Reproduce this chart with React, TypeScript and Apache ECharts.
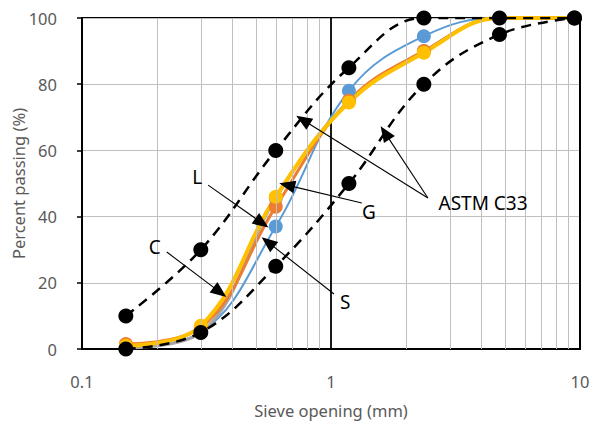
import React, { useEffect, useRef } from "react";
import * as echarts from "echarts";

// Sieve openings (mm)
const sieve = [0.15, 0.3, 0.6, 1.18, 2.36, 4.75, 9.5];
// ASTM C33 limits (% passing)
const astmUpper = [10, 30, 60, 85, 100, 100, 100];
const astmLower = [0, 5, 25, 50, 80, 95, 100];
// Sands (% passing)
const sandS = [0.5, 5, 37, 78, 94.5, 100, 100];
const sandL = [1.5, 6.5, 43, 75, 90, 100, 100];
const sandC = [0.3, 5, 45.5, 75, 90, 100, 100];
const sandG = [1, 7, 46, 74.5, 89.5, 100, 100];

// minor log gridlines
const minorTicks = [0.2, 0.3, 0.4, 0.5, 0.6, 0.7, 0.8, 0.9, 2, 3, 4, 5, 6, 7, 8, 9];
const xTickLabels = ["0.1", "1", "10"];

// annotation texts: [label, x, y]
const annTexts: [string, number, number][] = [
  ["L", 0.29, 52],
  ["C", 0.196, 30.8],
  ["G", 1.42, 41.4],
  ["S", 1.14, 14.2],
  ["ASTM C33", 4.08, 44.1],
];
// annotation arrows: [x0, y0, x1, y1]
const annArrows: [number, number, number, number][] = [
  [0.321, 49.5, 0.528, 38.1],
  [0.219, 29.3, 0.358, 17.2],
  [1.33, 44.1, 0.666, 49.5],
  [1.028, 16.6, 0.558, 32.3],
  [2.45, 45.6, 0.772, 69.2],
  [2.45, 45.6, 1.648, 65.3],
];

const FONT = "Noto Sans";

function pairs(ys: number[]) {
  return sieve.map((x, i) => [x, ys[i]]);
}

export default function App() {
  const ref = useRef<HTMLDivElement>(null);
  useEffect(() => {
    document.body.style.margin = "0";
    const chart = echarts.init(ref.current!, null, { renderer: "svg" });
    const sandSeries = (name: string, ys: number[], color: string, width: number) => ({
      name,
      type: "line",
      data: pairs(ys),
      smooth: 0.4,
      symbol: "circle",
      symbolSize: 14,
      z: 3,
      itemStyle: { color },
      lineStyle: { color, width },
    });
    const astmSeries = (name: string, ys: number[]) => ({
      name,
      type: "line",
      data: pairs(ys),
      smooth: 0.4,
      symbol: "circle",
      symbolSize: 15,
      z: 5,
      itemStyle: { color: "#000" },
      lineStyle: { color: "#000", width: 2.5, type: [10, 7] },
    });
    chart.setOption({
      animation: false,
      grid: {
        left: 82,
        right: 11,
        top: 18,
        bottom: 76,
        show: true,
        borderColor: "#000",
        borderWidth: 2,
        containLabel: false,
        outerBoundsMode: "none",
      },
      xAxis: {
        type: "log",
        logBase: 10,
        min: 0.1,
        max: 10,
        name: "Sieve opening (mm)",
        nameLocation: "middle",
        nameGap: 53,
        nameMoveOverlap: false,
        nameTextStyle: { fontFamily: FONT, fontSize: 16.5, color: "#595959" },
        axisLine: { show: true, lineStyle: { color: "#000", width: 2 } },
        axisTick: { show: false },
        axisLabel: {
          fontFamily: FONT,
          fontSize: 16.5,
          color: "#595959",
          margin: 24,
          formatter: (v: number) => {
            const i = Math.round(Math.log10(v)) + 1;
            return xTickLabels[i] ?? String(v);
          },
        },
        splitLine: { show: true, lineStyle: { color: "#000", width: 1.8 } },
      },
      yAxis: {
        type: "value",
        min: 0,
        max: 100,
        interval: 20,
        name: "Percent passing (%)",
        nameLocation: "middle",
        nameGap: 55,
        nameMoveOverlap: false,
        nameTextStyle: { fontFamily: FONT, fontSize: 16.5, color: "#595959" },
        axisLine: { show: true, lineStyle: { color: "#000", width: 2 } },
        axisTick: { show: true, length: 5, lineStyle: { color: "#000", width: 1.5 } },
        axisLabel: { fontFamily: FONT, fontSize: 16.5, color: "#595959", margin: 25 },
        splitLine: { show: true, lineStyle: { color: "#BFBFBF", width: 1 } },
      },
      series: [
        {
          name: "minorGrid",
          type: "line",
          data: [],
          z: 1,
          silent: true,
          markLine: {
            silent: true,
            symbol: ["none", "none"],
            label: { show: false },
            lineStyle: { color: "#BFBFBF", width: 1, type: "solid" },
            data: minorTicks.map((v) => ({ xAxis: v })),
          },
        },
        sandSeries("S", sandS, "#5B9BD5", 2),
        sandSeries("C", sandC, "#A5A5A5", 3),
        sandSeries("L", sandL, "#ED7D31", 3),
        sandSeries("G", sandG, "#FFC000", 4),
        astmSeries("ASTM upper", astmUpper),
        astmSeries("ASTM lower", astmLower),
        {
          name: "annotations",
          type: "line",
          data: [],
          z: 10,
          silent: true,
          markLine: {
            silent: true,
            symbol: ["none", "triangle"],
            symbolSize: [13, 16],
            label: { show: false },
            lineStyle: { color: "#000", width: 1.1, type: "solid" },
            itemStyle: { color: "#000" },
            data: annArrows.map(([x0, y0, x1, y1]) => [
              { coord: [x0, y0] },
              { coord: [x1, y1] },
            ]),
          },
          markPoint: {
            silent: true,
            symbol: "circle",
            symbolSize: 0,
            label: {
              show: true,
              position: "inside",
              fontFamily: FONT,
              fontSize: 19,
              color: "#000",
              formatter: (p: any) => p.name,
            },
            data: annTexts.map(([t, x, y]) => ({ name: t, coord: [x, y] })),
          },
        },
      ],
    });
    return () => chart.dispose();
  }, []);
  return <div ref={ref} style={{ width: 591, height: 425 }} />;
}
